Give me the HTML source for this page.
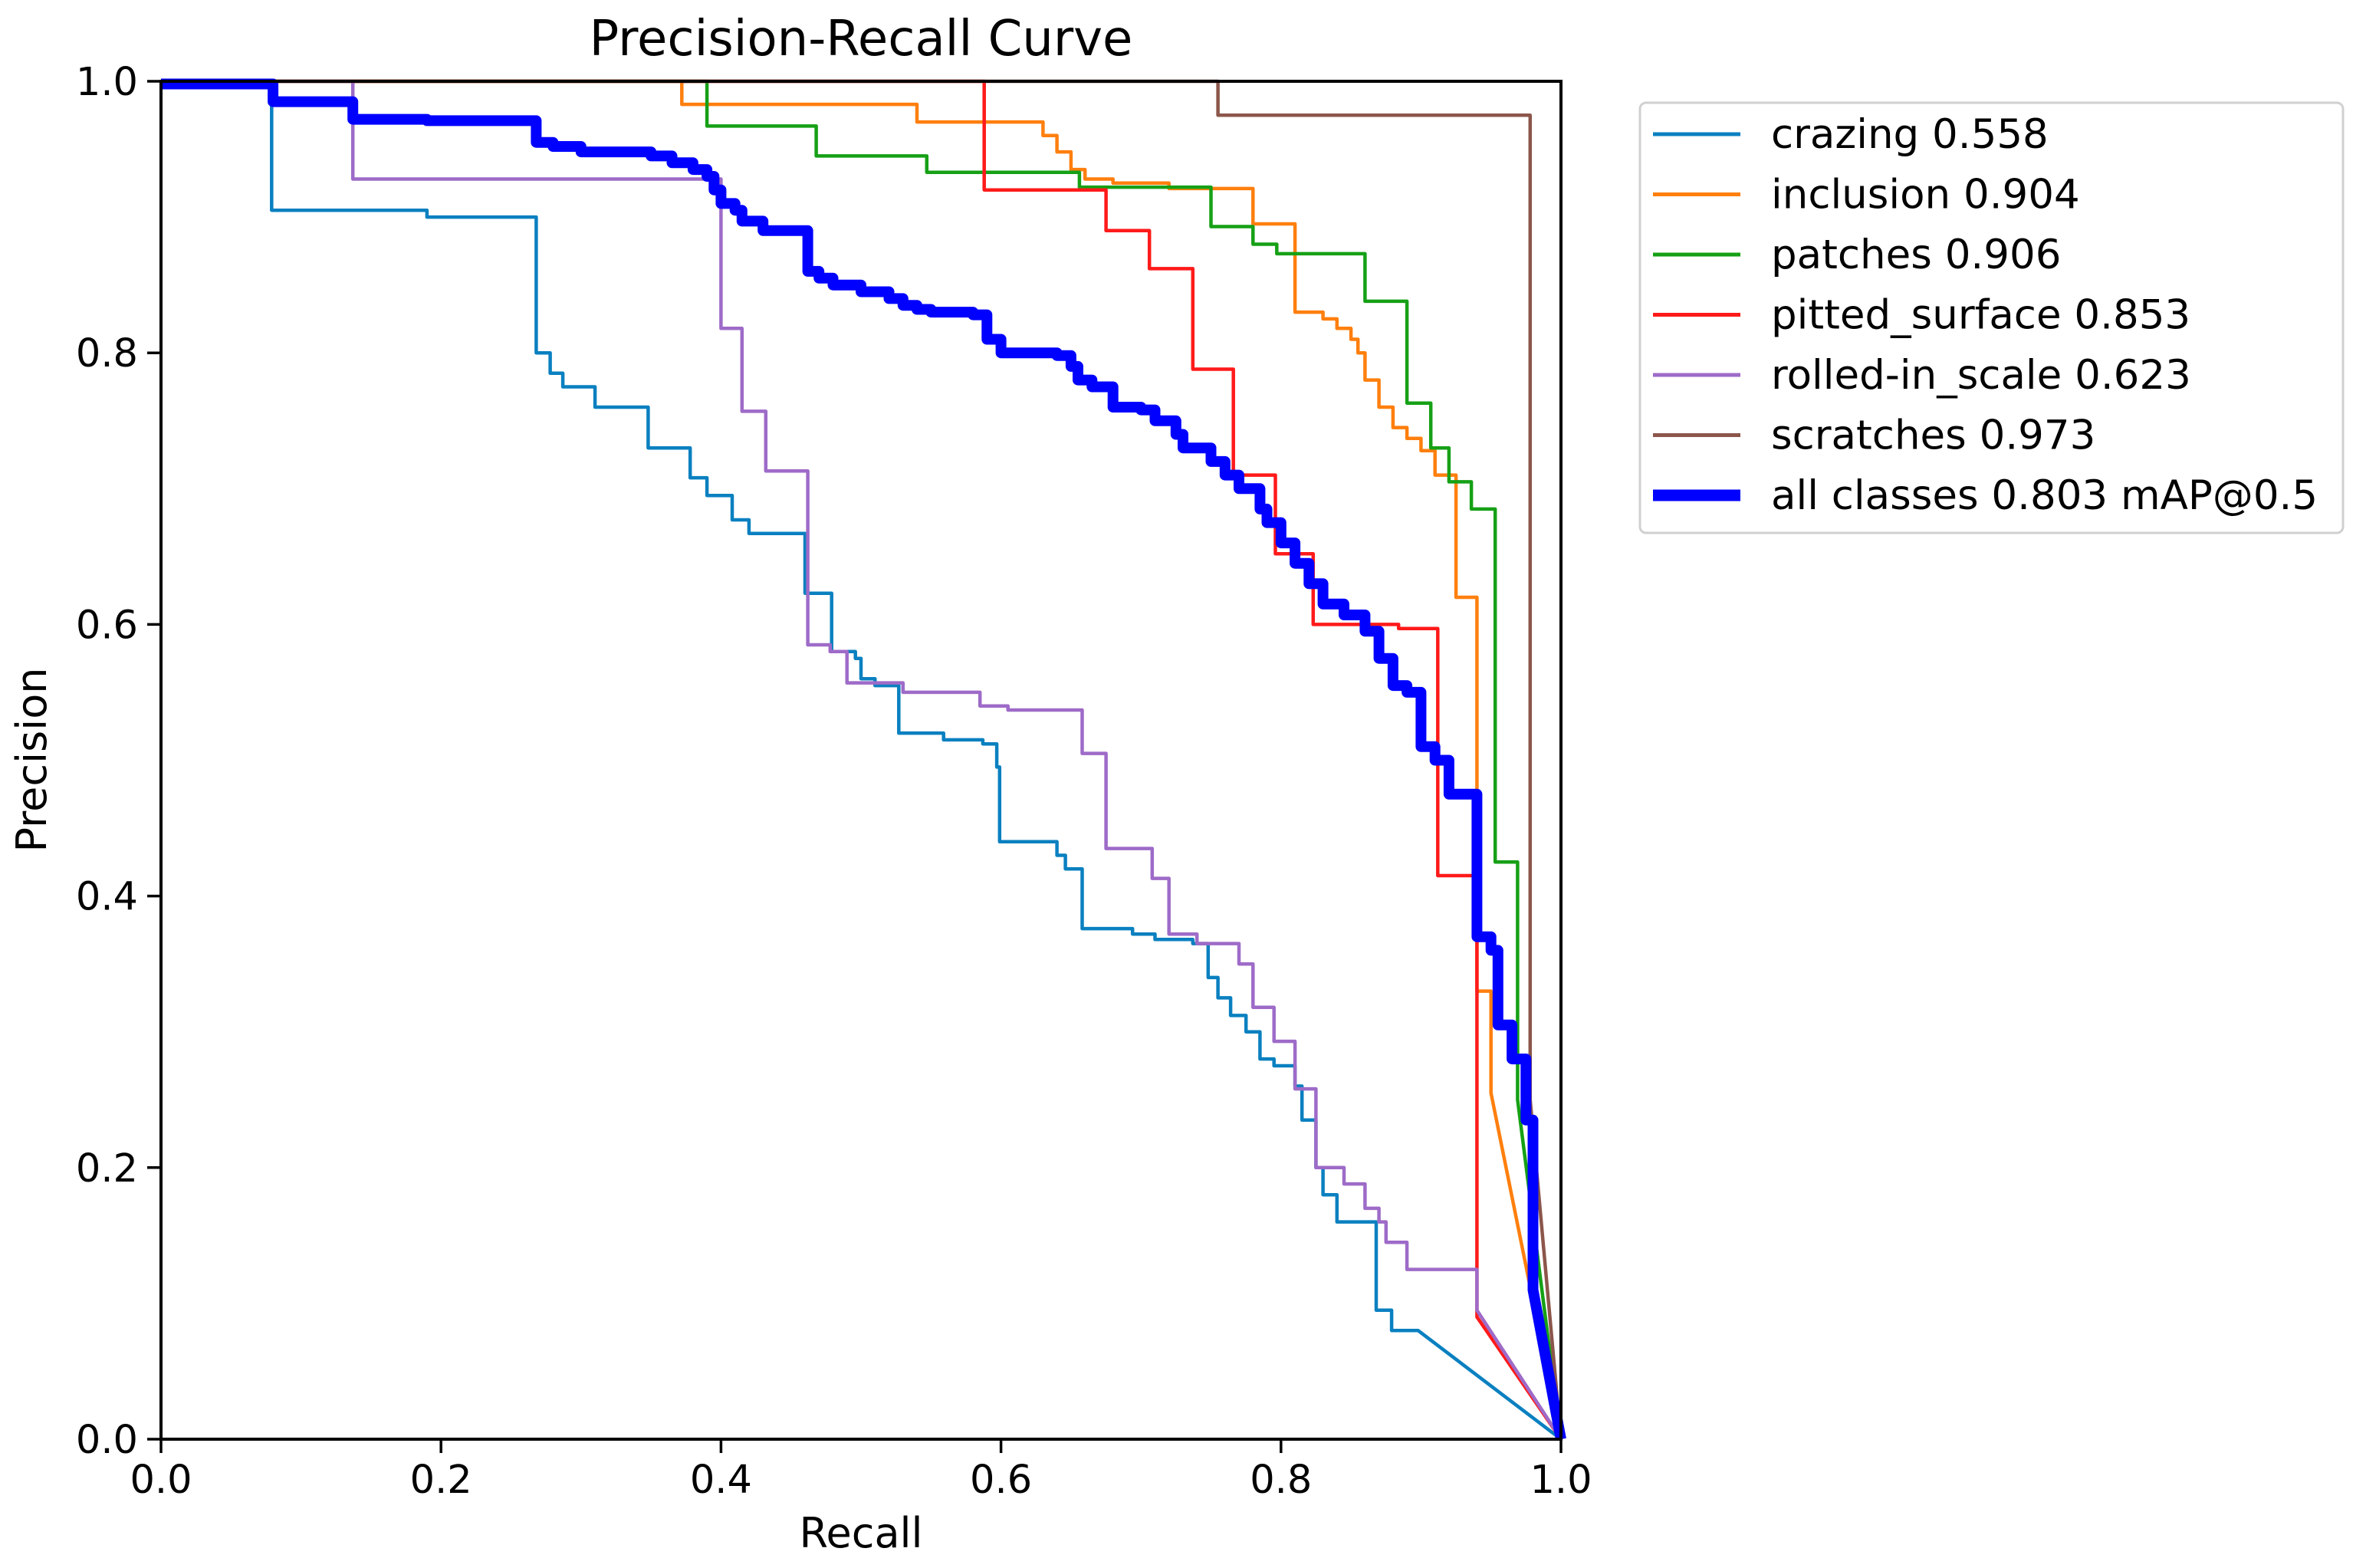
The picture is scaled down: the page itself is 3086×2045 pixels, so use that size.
<!DOCTYPE html>
<html><head><meta charset="utf-8"><style>
body{margin:0;background:#fff}
svg{display:block}
text{font-family:"DejaVu Sans","Liberation Sans",sans-serif;fill:#000}
</style></head><body>
<svg id="chart" width="3086" height="2045" viewBox="0 0 3086 2045" xmlns="http://www.w3.org/2000/svg">
<rect width="3086" height="2045" fill="#fff"/>
<g id="plot"></g>
<g id="axes"></g>
<text x="1123" y="72" font-size="64" text-anchor="middle">Precision-Recall Curve</text>
<text x="1123" y="2018" font-size="54" text-anchor="middle">Recall</text>
<text x="60" y="991" font-size="54" text-anchor="middle" transform="rotate(-90 60 991)">Precision</text>
<g id="legend"></g>
</svg>
<script>
const xTicks=[0,0.2,0.4,0.6,0.8,1.0];
const yTicks=[0,0.2,0.4,0.6,0.8,1.0];
const tickLabels=["0.0","0.2","0.4","0.6","0.8","1.0"];
const seriesNames=["crazing 0.558","inclusion 0.904","patches 0.906","pitted_surface 0.853","rolled-in_scale 0.623","scratches 0.973","all classes 0.803 mAP@0.5"];
const crazingR=[0,0.079,0.19,0.268,0.278,0.287,0.31,0.348,0.378,0.39,0.408,0.42,0.46,0.479,0.496,0.5,0.51,0.527,0.559,0.587,0.597,0.599,0.64,0.646,0.658,0.694,0.71,0.737,0.748,0.755,0.764,0.775,0.785,0.795,0.81,0.815,0.825,0.83,0.84,0.868,0.879,0.898];
const crazingP=[1,0.905,0.90,0.80,0.785,0.775,0.76,0.73,0.708,0.695,0.677,0.667,0.623,0.58,0.575,0.56,0.555,0.52,0.515,0.512,0.495,0.44,0.43,0.42,0.376,0.372,0.368,0.365,0.34,0.325,0.312,0.30,0.28,0.275,0.26,0.235,0.20,0.18,0.16,0.095,0.08,0.08];
const inclusionR=[0,0.372,0.54,0.62,0.63,0.64,0.65,0.66,0.68,0.72,0.78,0.81,0.83,0.84,0.85,0.855,0.86,0.87,0.88,0.89,0.9,0.91,0.925,0.94,0.95];
const inclusionP=[1,0.983,0.97,0.97,0.96,0.948,0.935,0.928,0.925,0.921,0.895,0.83,0.825,0.818,0.81,0.80,0.78,0.76,0.745,0.737,0.728,0.71,0.62,0.33,0.255];
const patchesR=[0,0.39,0.468,0.547,0.656,0.75,0.78,0.797,0.86,0.89,0.907,0.92,0.936,0.953,0.969];
const patchesP=[1,0.967,0.945,0.933,0.922,0.893,0.88,0.873,0.838,0.763,0.73,0.705,0.685,0.425,0.25];
const pittedR=[0,0.588,0.675,0.706,0.737,0.766,0.796,0.823,0.884,0.912,0.94];
const pittedP=[1,0.92,0.89,0.862,0.788,0.71,0.652,0.60,0.597,0.415,0.09];
const rolledR=[0,0.137,0.40,0.415,0.432,0.462,0.478,0.49,0.53,0.585,0.605,0.658,0.675,0.708,0.72,0.74,0.77,0.78,0.795,0.81,0.825,0.845,0.86,0.87,0.875,0.89,0.94];
const rolledP=[1,0.928,0.818,0.757,0.713,0.585,0.58,0.557,0.55,0.54,0.537,0.505,0.435,0.413,0.372,0.365,0.35,0.318,0.293,0.258,0.20,0.188,0.17,0.16,0.145,0.125,0.095];
const scratchesR=[0,0.755,0.978];
const scratchesP=[1,0.975,0.25];
const allR=[0,0.08,0.137,0.19,0.268,0.28,0.30,0.35,0.365,0.38,0.39,0.395,0.40,0.41,0.415,0.43,0.462,0.47,0.48,0.50,0.52,0.53,0.54,0.55,0.58,0.59,0.60,0.64,0.65,0.655,0.665,0.68,0.70,0.71,0.725,0.73,0.75,0.76,0.77,0.785,0.79,0.80,0.81,0.82,0.83,0.845,0.86,0.87,0.88,0.89,0.90,0.91,0.92,0.94,0.95,0.955,0.965,0.975,0.98];
const allP=[0.998,0.985,0.972,0.971,0.955,0.952,0.948,0.945,0.94,0.935,0.93,0.92,0.91,0.905,0.897,0.89,0.86,0.855,0.85,0.845,0.84,0.835,0.832,0.83,0.828,0.81,0.80,0.798,0.79,0.78,0.775,0.76,0.758,0.75,0.74,0.73,0.72,0.71,0.70,0.685,0.675,0.66,0.645,0.63,0.615,0.607,0.595,0.575,0.555,0.55,0.51,0.50,0.475,0.37,0.36,0.305,0.28,0.235,0.11];

const L=210,R=2036,T=106,B=1877;
const sx=v=>L+v*(R-L), sy=v=>B-v*(B-T);
const NS="http://www.w3.org/2000/svg";
function mk(tag,attrs,parent){const e=document.createElementNS(NS,tag);for(const k in attrs)e.setAttribute(k,attrs[k]);parent.appendChild(e);return e;}
const plot=document.getElementById('plot'),axes=document.getElementById('axes'),legend=document.getElementById('legend');
const colors=["#0a80c0","#ff7f0e","#16a016","#ff1a1a","#9e6bc8","#8c564b","#0000ff"];
const widths=[4.5,4.5,4.5,4.5,4.5,4.5,14];
const rs=[crazingR,inclusionR,patchesR,pittedR,rolledR,scratchesR,allR];
const ps=[crazingP,inclusionP,patchesP,pittedP,rolledP,scratchesP,allP];
const names=['crazing-curve','inclusion-curve','patches-curve','pitted-surface-curve','rolled-in-scale-curve','scratches-curve','all-classes-curve'];
for(let s=0;s<7;s++){
  const r=rs[s],p=ps[s];
  let d='M'+sx(r[0]).toFixed(1)+','+sy(p[0]).toFixed(1);
  for(let i=1;i<r.length;i++){d+=' H'+sx(r[i]).toFixed(1)+' V'+sy(p[i]).toFixed(1);}
  d+=' L'+sx(1)+','+sy(0);
  const path=mk('path',{d:d,fill:'none',stroke:colors[s],'stroke-width':widths[s],'stroke-linejoin':'round'},plot);
  
  
}
const frame=mk('rect',{x:L,y:T,width:R-L,height:B-T,fill:'none',stroke:'#000','stroke-width':4},axes);


for(let i=0;i<xTicks.length;i++){
  const x=sx(xTicks[i]);
  const t=mk('line',{x1:x,y1:B,x2:x,y2:B+18,stroke:'#000','stroke-width':3.5},axes);
  
  
  const lb=mk('text',{x:x,y:B+70,'font-size':51,'text-anchor':'middle'},axes);lb.textContent=tickLabels[i];
  
  
}
for(let i=0;i<yTicks.length;i++){
  const y=sy(yTicks[i]);
  const t=mk('line',{x1:L-18,y1:y,x2:L,y2:y,stroke:'#000','stroke-width':3.5},axes);
  
  
  const lb=mk('text',{x:L-30,y:y+18,'font-size':51,'text-anchor':'end'},axes);lb.textContent=tickLabels[i];
  
  
}
const box=mk('rect',{x:2139,y:134,width:917,height:561,rx:8,fill:'#fff',stroke:'#d0d0d0','stroke-width':3},legend);


for(let s=0;s<7;s++){
  const y=175+s*78.5;
  const ln=mk('line',{x1:2156,y1:y,x2:2270,y2:y,stroke:colors[s],'stroke-width':s==6?15:5},legend);
  
  
  const tx=mk('text',{x:2310,y:y+18,'font-size':53},legend);tx.textContent=seriesNames[s];
  
  
}
</script>
</body></html>
